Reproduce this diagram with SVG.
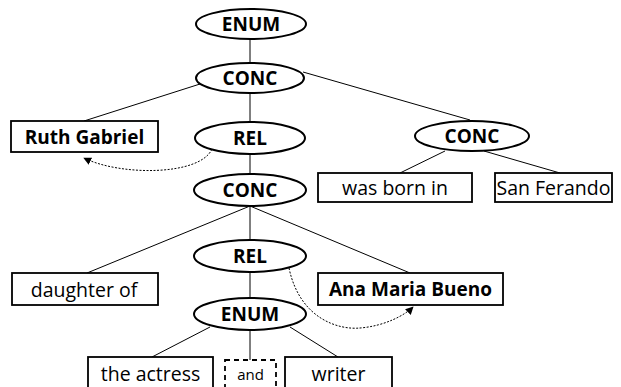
<svg xmlns="http://www.w3.org/2000/svg" width="621" height="387" viewBox="0 0 621 387">
<style>
.el{fill:#fff;stroke:#000;stroke-width:2}
.bx{fill:#fff;stroke:#000;stroke-width:1.8}
.ds{fill:#fff;stroke:#000;stroke-width:1.8;stroke-dasharray:5,4}
.ln{fill:none;stroke:#000;stroke-width:1}
.dt{fill:none;stroke:#000;stroke-width:1;stroke-dasharray:2,1.5}
text{font-family:"Open Sans","Liberation Sans",sans-serif;font-size:19.5px;text-anchor:middle;fill:#000}
.b{font-weight:bold;font-size:19px}
</style>
<defs>
<marker id="ah" viewBox="0 0 10 10" refX="9" refY="5" markerWidth="8" markerHeight="8" orient="auto" markerUnits="userSpaceOnUse">
<path d="M0,0 L10,5 L0,10 z" fill="#000"/>
</marker>
</defs>
<g id="connectors">
<line class="ln" x1="250" y1="40" x2="250" y2="62"/>
<line class="ln" x1="200" y1="84" x2="84" y2="121"/>
<line class="ln" x1="303" y1="72" x2="470" y2="120"/>
<line class="ln" x1="250" y1="94" x2="250" y2="122"/>
<line class="ln" x1="250" y1="154" x2="250" y2="174"/>
<line class="ln" x1="445" y1="151" x2="400" y2="173"/>
<line class="ln" x1="484" y1="151" x2="560" y2="173"/>
<line class="ln" x1="250" y1="206" x2="87" y2="273"/>
<line class="ln" x1="250" y1="206" x2="250" y2="240"/>
<line class="ln" x1="250" y1="206" x2="410" y2="273"/>
<line class="ln" x1="250" y1="272" x2="250" y2="298"/>
<line class="ln" x1="210" y1="327" x2="152" y2="357"/>
<line class="ln" x1="250" y1="330" x2="250" y2="360"/>
<line class="ln" x1="290" y1="327" x2="338" y2="357"/>
<path class="dt" d="M212,149 C200,176 120,176 84,158" marker-end="url(#ah)"/>
<path class="dt" d="M289,268 C300,320 340,330 360,328 C385,326 405,315 413,307" marker-end="url(#ah)"/>
</g>
<g id="enum1"><ellipse class="el" cx="251" cy="24" rx="55" ry="15"/><text class="b" x="251" y="31">ENUM</text></g>
<g id="conc1"><ellipse class="el" cx="250" cy="78" rx="54" ry="15"/><text class="b" x="250" y="85">CONC</text></g>
<g id="ruth"><rect class="bx" x="11" y="121" width="147" height="31"/><text class="b" x="84.5" y="144">Ruth Gabriel</text></g>
<g id="rel1"><ellipse class="el" cx="250" cy="138" rx="55" ry="16"/><text class="b" x="250" y="145">REL</text></g>
<g id="conc2"><ellipse class="el" cx="472" cy="136" rx="57" ry="15"/><text class="b" x="472" y="143">CONC</text></g>
<g id="born"><rect class="bx" x="318" y="173" width="154" height="29"/><text x="395" y="195">was born in</text></g>
<g id="sanf"><rect class="bx" x="495" y="173" width="117" height="29"/><text x="553.5" y="195">San Ferando</text></g>
<g id="conc3"><ellipse class="el" cx="250" cy="190" rx="56" ry="16"/><text class="b" x="250" y="197">CONC</text></g>
<g id="rel2"><ellipse class="el" cx="250" cy="256" rx="56" ry="16"/><text class="b" x="250" y="263">REL</text></g>
<g id="daughter"><rect class="bx" x="12" y="273" width="146" height="32"/><text x="84" y="297">daughter of</text></g>
<g id="ana"><rect class="bx" x="318" y="273" width="185" height="32"/><text class="b" x="410.5" y="296">Ana Maria Bueno</text></g>
<g id="enum2"><ellipse class="el" cx="250" cy="314" rx="56" ry="16"/><text class="b" x="250" y="321">ENUM</text></g>
<g id="actress"><rect class="bx" x="88" y="357" width="125" height="34"/><text x="150.5" y="381">the actress</text></g>
<g id="and"><rect class="ds" x="225" y="360" width="51" height="31"/><text x="250.5" y="380" style="font-size:15px">and</text></g>
<g id="writer"><rect class="bx" x="285" y="357" width="107" height="34"/><text x="338.5" y="381">writer</text></g>
</svg>
